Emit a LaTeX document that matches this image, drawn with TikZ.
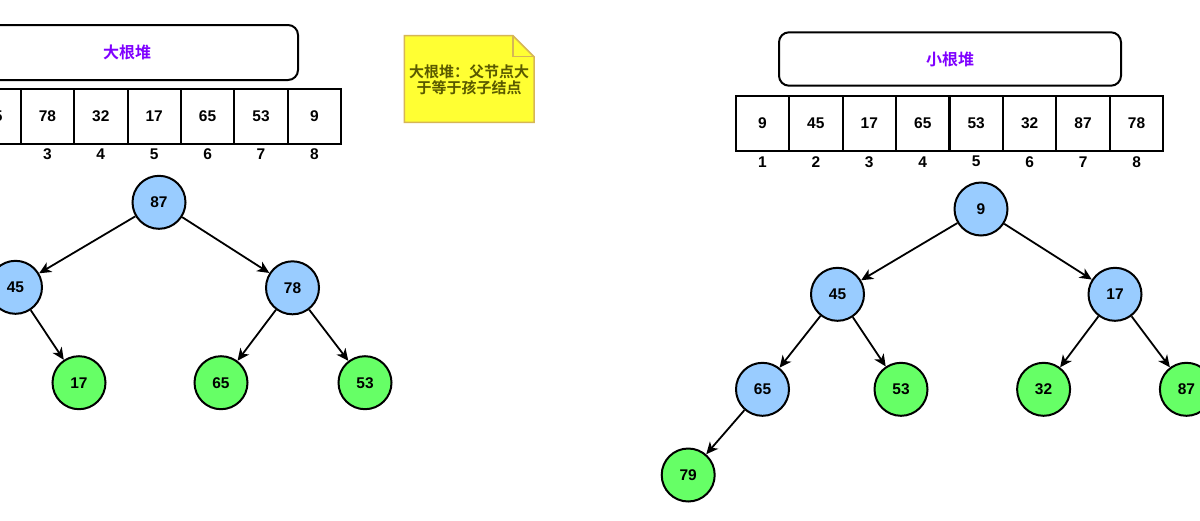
\documentclass[tikz,border=0pt]{standalone}
\usepackage{fontspec}
\setmainfont{Liberation Sans}
\newfontfamily\cjk{Noto Sans CJK SC}[BoldFont={Noto Sans CJK SC Bold}]
\usetikzlibrary{arrows.meta}
\definecolor{nodeblue}{HTML}{99CCFF}
\definecolor{nodegreen}{HTML}{66FF66}
\definecolor{titlepurple}{HTML}{7F00FF}
\definecolor{notefill}{HTML}{FFFF33}
\definecolor{notestroke}{HTML}{D6B656}
\definecolor{notetext}{HTML}{5A5A00}
\begin{document}
\begin{tikzpicture}[x=1pt,y=-1pt,
  every node/.style={font=\fontsize{15.5}{18}\selectfont\bfseries},
  cell/.style={draw, line width=2pt, minimum width=53.4pt, minimum height=54.7pt, inner sep=0pt},
  idx/.style={inner sep=0pt},
  bluenode/.style={circle, draw, line width=2pt, fill=nodeblue, minimum size=53pt, inner sep=0pt},
  greennode/.style={circle, draw, line width=2pt, fill=nodegreen, minimum size=53pt, inner sep=0pt},
  titlebox/.style={draw, line width=2pt, rounded corners=10pt, minimum width=342pt, inner sep=0pt, text=titlepurple, font=\cjk\fontsize{16}{18}\selectfont\bfseries},
  arr/.style={line width=1.8pt, -{Stealth[length=12pt,width=11pt,inset=3.5pt]}}
]
\useasboundingbox (0,0) rectangle (1200,520);
\clip (0,0) rectangle (1200,520);
\fill[white] (0,0) rectangle (1200,520);

% titles
\node[titlebox, minimum height=55pt] (ltitle) at (127,52.5) {大根堆};
\node[titlebox, minimum height=53.4pt] (rtitle) at (950,59) {小根堆};

% note
\draw[notestroke, fill=notefill, line width=1.5pt] (404.3,35.7) -- (513,35.7) -- (534,56.7) -- (534,122.3) -- (404.3,122.3) -- cycle;
\draw[notestroke, line width=1.5pt] (513,35.7) -- (513,56.7) -- (534,56.7);
\node[text=notetext, align=center, font=\cjk\fontsize{15}{16.6}\selectfont\bfseries] (notetxt) at (469,80) {大根堆：父节点大\\于等于孩子结点};

% arrays
\foreach \v [count=\i] in {87,45,78,32,17,65,53,9} {
  \node[cell] (L\i) at ({-59.4+(\i-1)*53.4},116.5) {\v};
  \node[idx] (Li\i) at ({-59.4+(\i-1)*53.4},154.5) {\i};
}
\foreach \v [count=\i] in {9,45,17,65,53,32,87,78} {
  \node[cell] (R\i) at ({762.4+(\i-1)*53.45},123.3) {\v};
  \node[idx] (Ri\i) at ({762.4+(\i-1)*53.45},161.7) {\i};
}

% left tree
\node[bluenode] (a87) at (159,202.3) {87};
\node[bluenode] (a45) at (15.5,287.3) {45};
\node[bluenode] (a78) at (292.5,287.8) {78};
\node[greennode] (a17) at (79,382.7) {17};
\node[greennode] (a65) at (221,382.7) {65};
\node[greennode] (a53) at (365,382.7) {53};
\draw[arr] (a87) -- (a45);
\draw[arr] (a87) -- (a78);
\draw[arr] (a45) -- (a17);
\draw[arr] (a78) -- (a65);
\draw[arr] (a78) -- (a53);

% right tree
\node[bluenode] (b9) at (981,209) {9};
\node[bluenode] (b45) at (837.5,294.3) {45};
\node[bluenode] (b17) at (1115,294.3) {17};
\node[bluenode] (b65) at (762.5,389.3) {65};
\node[greennode] (b53) at (901,389.3) {53};
\node[greennode] (b32) at (1043.6,389.3) {32};
\node[greennode] (b87) at (1186.4,389.3) {87};
\node[greennode] (b79) at (688.2,475) {79};
\draw[arr] (b9) -- (b45);
\draw[arr] (b9) -- (b17);
\draw[arr] (b45) -- (b65);
\draw[arr] (b45) -- (b53);
\draw[arr] (b17) -- (b32);
\draw[arr] (b17) -- (b87);
\draw[arr] (b65) -- (b79);
\end{tikzpicture}
\end{document}
